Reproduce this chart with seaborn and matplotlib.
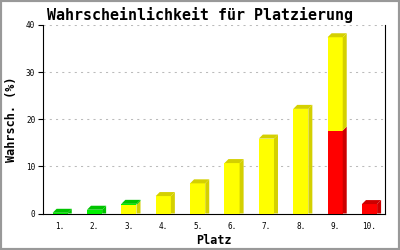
import matplotlib
matplotlib.use("Agg")
import matplotlib.pyplot as plt
import seaborn as sns
import numpy as np
from matplotlib.patches import Polygon, Rectangle

platz = ["1.", "2.", "3.", "4.", "5.", "6.", "7.", "8.", "9.", "10."]
rot = [0, 0, 0, 0, 0, 0, 0, 0, 17.6, 2.0]
gelb = [0, 0, 1.8, 3.7, 6.4, 10.7, 15.9, 22.2, 19.8, 0]
gruen = [0.15, 0.8, 0.25, 0, 0, 0, 0, 0, 0, 0]
yticks = [0, 10, 20, 30, 40]

sns.set_style("white")
plt.rcParams["font.family"] = ["DejaVu Sans Mono"]
plt.rcParams["text.color"] = "black"
plt.rcParams["axes.labelcolor"] = "black"
plt.rcParams["xtick.color"] = "black"
plt.rcParams["ytick.color"] = "black"

fig = plt.figure(figsize=(4, 2.5), dpi=100)
ax = fig.add_axes([0.1075, 0.146, 0.855, 0.754])

front = {"r": "#ff0000", "y": "#ffff00", "g": "#00f000"}
shade = {"r": "#cc0000", "y": "#d4d000", "g": "#00c400"}

r = np.array(rot)
y = np.array(gelb)
g = np.array(gruen)
layers = [("g", r + y + g), ("y", r + y), ("r", r)]
conts = {}
for key, vals in layers:
    sns.barplot(x=platz, y=vals, color=front[key], saturation=1, width=0.44,
                linewidth=0, ax=ax, zorder=3)
    conts[key] = ax.containers[-1]

ax.set_xlim(-0.5, 9.45)
ax.set_ylim(0, 40)
ax.set_yticks(yticks)

# 3D depth in pixels -> data units
fig.canvas.draw()
p0 = ax.transData.transform((0, 0))
p1 = ax.transData.transform((1, 1))
dx = 4 / (p1[0] - p0[0])
dy = 4 / (p1[1] - p0[1])

segs = [("r", r), ("y", y), ("g", g)]
for i in range(len(platz)):
    patch = conts["g"].patches[i]
    x0 = patch.get_x()
    x1 = x0 + patch.get_width()
    base = 0.0
    topkey = None
    for key, vals in segs:
        v = vals[i]
        if v <= 0:
            continue
        b0, b1 = base, base + v
        yb = b0 + dy if b0 > 0 else b0
        ax.add_patch(Polygon([(x1, b0), (x1 + dx, yb), (x1 + dx, b1 + dy), (x1, b1)],
                             closed=True, facecolor=shade[key], edgecolor="none",
                             zorder=3, clip_on=False))
        base = b1
        topkey = key
    if topkey is not None:
        ax.add_patch(Polygon([(x0, base), (x0 + dx, base + dy), (x1 + dx, base + dy), (x1, base)],
                             closed=True, facecolor=shade[topkey], edgecolor="none",
                             zorder=3, clip_on=False))

for t in yticks[1:]:
    ax.axhline(t, color="#bbbbbb", lw=0.75, linestyle=(0, (2, 4)), zorder=1)

for s in ["left", "bottom", "right"]:
    ax.spines[s].set_visible(True)
    ax.spines[s].set_color("black")
    ax.spines[s].set_linewidth(0.8)
ax.spines["top"].set_visible(False)

ax.tick_params(axis="x", length=0, pad=6, labelsize=5.5, labelcolor="black")
ax.tick_params(axis="y", length=3.6, width=0.8, direction="out", pad=2,
               labelsize=5.5, left=True, color="black", labelcolor="black")
ax.set_xlabel("Platz", fontsize=8.5, fontweight="bold", labelpad=2, color="black")
ax.set_ylabel("Wahrsch. (%)", fontsize=8.5, fontweight="bold", labelpad=6, color="black")
fig.text(0.5, 0.94, "Wahrscheinlichkeit für Platzierung", ha="center", va="center",
         fontsize=10.8, fontweight="bold", color="black")

fig.patches.append(Rectangle((0, 0), 1, 1, transform=fig.transFigure, fill=False,
                             edgecolor="#999999", lw=3, zorder=10))

fig.savefig("out.png", dpi=100)
